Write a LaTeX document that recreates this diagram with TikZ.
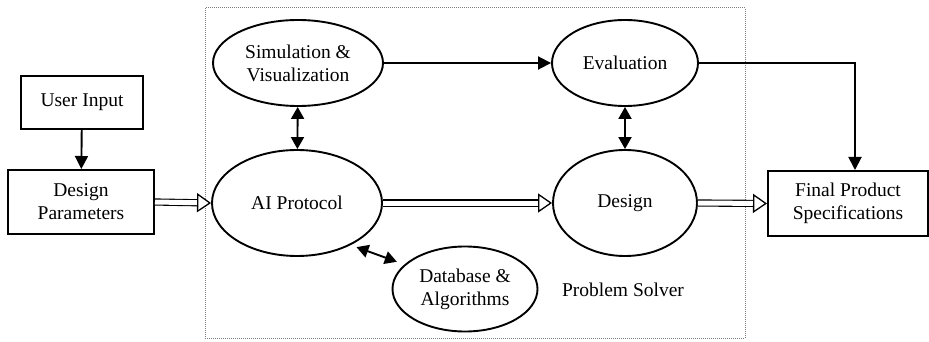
\documentclass[tikz,border=0pt]{standalone}
\usepackage{fontspec}
\setmainfont{Liberation Serif}
\usetikzlibrary{shapes.geometric,arrows.meta,calc}
\begin{document}
\begin{tikzpicture}[x=1pt,y=-1pt,
 txt/.style={font=\fontsize{19.5}{23}\selectfont},
 box/.style={draw,line width=2pt,inner sep=0pt,align=center,txt},
 ell/.style={draw,ellipse,line width=1.9pt,inner sep=0pt,align=center,txt},
 solidarrow/.style={line width=1.9pt,-{Triangle[length=13pt,width=13pt]}},
 dblarrow/.style={line width=1.9pt,{Triangle[length=12pt,width=13pt]}-{Triangle[length=12pt,width=13pt]}},
 hollow/.style={double,double distance=5pt,line width=1.1pt,-{Triangle[fill=white,length=14pt,width=19pt,line width=1.3pt]}},
 region/.style={densely dotted,gray,line width=1pt}
]
\useasboundingbox (0,0) rectangle (929,342);
% problem solver region
\draw[region] (205,8) rectangle (745,338);
% nodes
\node[box,minimum width=122pt,minimum height=53pt] (ui) at (82,102.5) {User Input};
\node[box,minimum width=146pt,minimum height=64pt] (dp) at (81,202) {Design\\Parameters};
\node[box,minimum width=160pt,minimum height=65pt] (fp) at (848,203.5) {Final Product\\Specifications};
\node[ell,minimum width=170pt,minimum height=86pt] (sim) at (298,63) {Simulation \&\\Visualization};
\node[ell,minimum width=170pt,minimum height=106pt] (ai) at (297,203) {AI Protocol};
\node[ell,minimum width=145pt,minimum height=85pt] (db) at (465,289) {Database \&\\Algorithms};
\node[ell,minimum width=146pt,minimum height=86pt] (ev) at (625,63) {Evaluation};
\node[ell,minimum width=144pt,minimum height=106pt] (de) at (625,203) {Design};
\node[txt] (ps) at (623,290) {Problem Solver};
% connectors
\draw[solidarrow] (ui) -- (dp);
\draw[hollow] (dp.east) -- (ai.west);
\draw[hollow] (ai.east) -- (de.west);
\draw[hollow] (de.east) -- (fp.west);
\draw[solidarrow] (sim.east) -- (ev.west);
\draw[dblarrow] (sim) -- (ai);
\draw[dblarrow] (ev) -- (de);
\draw[dblarrow,shorten <=6pt,shorten >=8pt] (ai.-38) -- (db.158);
\draw[solidarrow] (ev.east) -| ($(fp.north)+(7,0)$);
\end{tikzpicture}
\end{document}
